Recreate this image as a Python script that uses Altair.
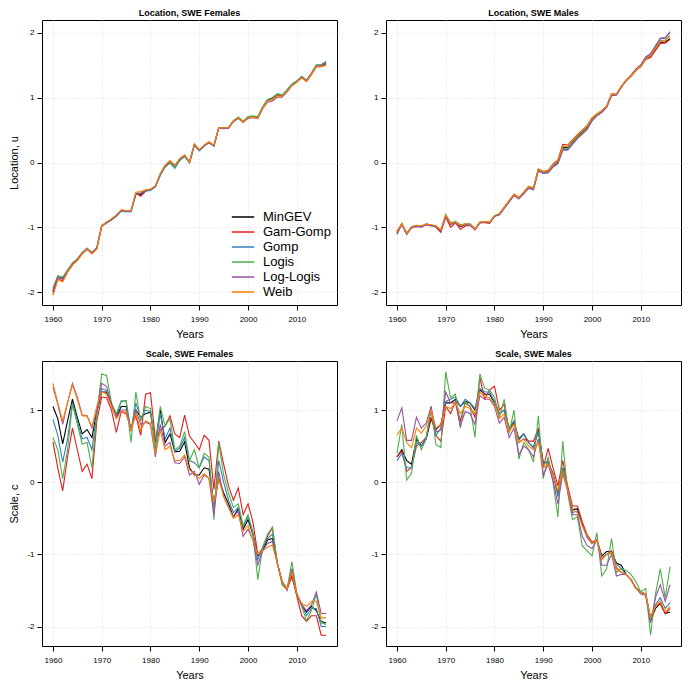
import altair as alt
import pandas as pd

years = list(range(1960, 2017))
models = ["MinGEV", "Gam-Gomp", "Gomp", "Logis", "Log-Logis", "Weib"]
colors = ["#000000", "#E41A1C", "#377EB8", "#4DAF4A", "#984EA3", "#FF7F00"]
x_ticks = [1960, 1970, 1980, 1990, 2000, 2010]
y_ticks = [-2, -1, 0, 1, 2]

# ---------------- Location, SWE Females ----------------
loc_f_mingev = [-2.00, -1.77, -1.80, -1.68, -1.57, -1.50, -1.40, -1.33, -1.40, -1.32,
                -0.98, -0.93, -0.88, -0.82, -0.74, -0.75, -0.75, -0.49, -0.50, -0.44,
                -0.42, -0.37, -0.19, -0.06, 0.01, -0.06, 0.04, 0.10, 0.00, 0.27,
                0.19, 0.26, 0.31, 0.26, 0.53, 0.53, 0.54, 0.64, 0.69, 0.63,
                0.70, 0.71, 0.70, 0.85, 0.96, 0.99, 1.05, 1.03, 1.11, 1.20,
                1.25, 1.32, 1.26, 1.37, 1.49, 1.49, 1.53]
loc_f_gamgomp = [-2.04, -1.80, -1.83, -1.69, -1.58, -1.51, -1.41, -1.34, -1.41, -1.33,
                 -0.99, -0.93, -0.88, -0.82, -0.74, -0.75, -0.75, -0.47, -0.52, -0.44,
                 -0.42, -0.37, -0.19, -0.05, 0.02, -0.05, 0.05, 0.11, 0.00, 0.28,
                 0.19, 0.26, 0.31, 0.26, 0.54, 0.53, 0.54, 0.64, 0.70, 0.63,
                 0.69, 0.70, 0.69, 0.84, 0.96, 0.98, 1.04, 1.03, 1.10, 1.19,
                 1.24, 1.31, 1.25, 1.36, 1.48, 1.48, 1.51]
loc_f_gomp = [-1.96, -1.75, -1.78, -1.67, -1.56, -1.49, -1.39, -1.33, -1.39, -1.32,
              -0.98, -0.93, -0.89, -0.83, -0.75, -0.76, -0.76, -0.49, -0.48, -0.44,
              -0.43, -0.38, -0.20, -0.07, -0.01, -0.09, 0.03, 0.09, 0.00, 0.27,
              0.18, 0.25, 0.31, 0.25, 0.53, 0.52, 0.53, 0.64, 0.69, 0.63,
              0.70, 0.71, 0.70, 0.86, 0.97, 1.00, 1.06, 1.04, 1.12, 1.21,
              1.26, 1.33, 1.27, 1.38, 1.50, 1.51, 1.56]
loc_f_logis = [-1.94, -1.75, -1.77, -1.66, -1.55, -1.49, -1.39, -1.32, -1.39, -1.31,
               -0.97, -0.92, -0.88, -0.82, -0.74, -0.75, -0.75, -0.48, -0.47, -0.43,
               -0.42, -0.37, -0.19, -0.06, 0.01, -0.07, 0.04, 0.10, 0.00, 0.27,
               0.19, 0.26, 0.31, 0.26, 0.53, 0.53, 0.54, 0.65, 0.70, 0.64,
               0.71, 0.72, 0.71, 0.86, 0.97, 1.00, 1.06, 1.04, 1.12, 1.21,
               1.26, 1.33, 1.27, 1.38, 1.51, 1.51, 1.56]
loc_f_loglogis = [-1.98, -1.77, -1.80, -1.68, -1.57, -1.50, -1.40, -1.33, -1.40, -1.32,
                  -0.98, -0.93, -0.88, -0.82, -0.74, -0.75, -0.75, -0.48, -0.47, -0.43,
                  -0.42, -0.37, -0.18, -0.05, 0.02, -0.05, 0.05, 0.11, 0.01, 0.28,
                  0.19, 0.26, 0.31, 0.26, 0.53, 0.52, 0.53, 0.63, 0.68, 0.62,
                  0.68, 0.69, 0.68, 0.83, 0.93, 0.95, 1.01, 1.01, 1.09, 1.19,
                  1.24, 1.32, 1.26, 1.37, 1.49, 1.49, 1.54]
loc_f_weib = [-2.05, -1.81, -1.84, -1.69, -1.58, -1.51, -1.41, -1.34, -1.41, -1.33,
              -0.99, -0.92, -0.87, -0.81, -0.73, -0.74, -0.74, -0.46, -0.45, -0.42,
              -0.41, -0.36, -0.17, -0.04, 0.03, -0.04, 0.06, 0.12, 0.01, 0.29,
              0.20, 0.27, 0.32, 0.27, 0.54, 0.53, 0.54, 0.64, 0.69, 0.63,
              0.69, 0.70, 0.69, 0.84, 0.95, 0.97, 1.03, 1.02, 1.10, 1.19,
              1.24, 1.31, 1.25, 1.36, 1.48, 1.48, 1.50]

# ---------------- Location, SWE Males ----------------
loc_m_mingev = [-1.08, -0.95, -1.10, -1.00, -0.98, -0.99, -0.95, -0.97, -0.99, -1.05,
                -0.83, -0.95, -0.93, -0.99, -0.96, -0.96, -1.03, -0.93, -0.92, -0.93,
                -0.83, -0.80, -0.70, -0.60, -0.50, -0.55, -0.47, -0.38, -0.40, -0.11,
                -0.15, -0.14, -0.04, 0.01, 0.23, 0.23, 0.32, 0.40, 0.47, 0.54,
                0.67, 0.74, 0.79, 0.86, 1.05, 1.05, 1.17, 1.27, 1.34, 1.43,
                1.49, 1.60, 1.64, 1.74, 1.85, 1.86, 1.91]
loc_m_gamgomp = [-1.06, -0.95, -1.09, -1.00, -0.98, -0.99, -0.96, -0.97, -1.00, -1.08,
                 -0.84, -1.00, -0.93, -1.03, -0.98, -0.97, -1.04, -0.93, -0.93, -0.94,
                 -0.83, -0.80, -0.69, -0.59, -0.49, -0.54, -0.46, -0.37, -0.39, -0.10,
                 -0.14, -0.12, -0.02, 0.04, 0.28, 0.27, 0.35, 0.43, 0.50, 0.57,
                 0.69, 0.75, 0.80, 0.87, 1.06, 1.05, 1.17, 1.26, 1.33, 1.42,
                 1.48, 1.59, 1.62, 1.73, 1.84, 1.84, 1.90]
loc_m_gomp = [-1.09, -0.95, -1.10, -1.00, -0.98, -0.99, -0.95, -0.97, -0.98, -1.05,
              -0.82, -0.94, -0.92, -0.97, -0.95, -0.95, -1.02, -0.93, -0.92, -0.93,
              -0.83, -0.80, -0.70, -0.61, -0.51, -0.56, -0.48, -0.39, -0.41, -0.12,
              -0.16, -0.15, -0.06, -0.01, 0.20, 0.20, 0.29, 0.38, 0.45, 0.52,
              0.65, 0.73, 0.78, 0.86, 1.04, 1.05, 1.17, 1.27, 1.35, 1.44,
              1.50, 1.62, 1.67, 1.79, 1.91, 1.92, 2.01]
loc_m_logis = [-1.10, -0.94, -1.11, -0.99, -0.97, -0.98, -0.95, -0.96, -0.98, -1.04,
               -0.80, -0.93, -0.91, -0.96, -0.95, -0.95, -1.03, -0.92, -0.91, -0.92,
               -0.82, -0.79, -0.70, -0.60, -0.50, -0.55, -0.47, -0.38, -0.40, -0.11,
               -0.15, -0.13, -0.04, 0.02, 0.22, 0.22, 0.31, 0.39, 0.46, 0.53,
               0.66, 0.74, 0.79, 0.86, 1.05, 1.05, 1.17, 1.27, 1.34, 1.43,
               1.49, 1.61, 1.65, 1.77, 1.88, 1.89, 1.96]
loc_m_loglogis = [-1.11, -0.96, -1.11, -1.01, -0.99, -1.00, -0.96, -0.98, -0.99, -1.05,
                  -0.84, -0.95, -0.94, -0.98, -0.97, -0.97, -1.03, -0.93, -0.92, -0.93,
                  -0.83, -0.81, -0.71, -0.61, -0.51, -0.56, -0.48, -0.40, -0.42, -0.13,
                  -0.17, -0.16, -0.07, -0.02, 0.19, 0.19, 0.28, 0.37, 0.44, 0.51,
                  0.64, 0.72, 0.77, 0.85, 1.03, 1.04, 1.16, 1.27, 1.35, 1.44,
                  1.51, 1.63, 1.68, 1.80, 1.92, 1.93, 2.02]
loc_m_weib = [-1.07, -0.94, -1.09, -0.99, -0.97, -0.98, -0.95, -0.96, -0.98, -1.04,
              -0.81, -0.94, -0.92, -0.97, -0.95, -0.95, -1.02, -0.92, -0.91, -0.92,
              -0.82, -0.79, -0.69, -0.59, -0.49, -0.54, -0.46, -0.37, -0.39, -0.10,
              -0.14, -0.13, -0.03, 0.03, 0.25, 0.25, 0.34, 0.42, 0.49, 0.56,
              0.68, 0.75, 0.80, 0.87, 1.06, 1.06, 1.18, 1.27, 1.34, 1.43,
              1.49, 1.60, 1.65, 1.76, 1.87, 1.88, 1.95]

# ---------------- Scale, SWE Females ----------------
sc_f_mingev = [1.05, 0.88, 0.53, 0.85, 1.15, 0.90, 0.67, 0.73, 0.62, 0.98,
               1.25, 1.25, 1.07, 0.90, 1.05, 1.05, 0.72, 1.00, 0.90, 0.95,
               0.97, 0.55, 1.00, 0.55, 0.67, 0.42, 0.43, 0.56, 0.20, 0.10,
               0.10, 0.20, 0.18, -0.30, 0.05, -0.15, -0.30, -0.48, -0.37, -0.65,
               -0.52, -0.72, -1.02, -0.95, -0.80, -0.78, -1.12, -1.38, -1.48, -1.30,
               -1.55, -1.70, -1.80, -1.72, -1.78, -1.93, -1.95]
sc_f_gamgomp = [0.56, 0.20, -0.12, 0.35, 0.75, 0.45, 0.15, 0.25, 0.05, 0.85,
                1.18, 1.17, 1.00, 0.69, 0.98, 0.95, 0.75, 0.92, 0.65, 1.22,
                1.24, 0.60, 0.72, 0.78, 0.92, 0.67, 0.62, 0.93, 0.64, 0.55,
                0.45, 0.65, 0.58, -0.10, 0.57, 0.25, -0.05, -0.25, -0.08, -0.45,
                -0.30, -0.55, -1.00, -0.92, -0.75, -0.63, -1.12, -1.38, -1.47, -1.30,
                -1.58, -1.85, -1.93, -1.85, -1.85, -2.12, -2.12]
sc_f_gomp = [0.87, 0.65, 0.28, 0.60, 1.10, 0.85, 0.60, 0.62, 0.45, 0.95,
             1.30, 1.27, 1.08, 0.92, 1.12, 1.13, 0.72, 1.10, 0.88, 1.00,
             0.98, 0.45, 0.95, 0.60, 0.75, 0.43, 0.47, 0.62, 0.30, 0.27,
             0.20, 0.35, 0.30, -0.35, 0.30, 0.00, -0.25, -0.42, -0.35, -0.62,
             -0.48, -0.70, -1.08, -0.90, -0.78, -0.72, -1.12, -1.40, -1.48, -1.20,
             -1.55, -1.70, -1.85, -1.75, -1.75, -2.00, -2.00]
sc_f_logis = [0.62, 0.45, 0.05, 0.45, 1.08, 0.80, 0.53, 0.55, 0.20, 0.95,
              1.50, 1.48, 1.10, 0.95, 1.13, 1.13, 0.55, 1.25, 0.85, 1.05,
              1.02, 0.50, 1.05, 0.78, 0.88, 0.45, 0.50, 0.70, 0.30, 0.45,
              0.20, 0.40, 0.35, -0.52, 0.55, 0.10, -0.15, -0.35, -0.30, -0.60,
              -0.45, -0.70, -1.35, -0.90, -0.72, -0.62, -1.12, -1.43, -1.48, -1.10,
              -1.55, -1.72, -1.92, -1.78, -1.55, -1.95, -1.97]
sc_f_loglogis = [1.32, 1.08, 0.80, 1.10, 1.37, 1.18, 0.93, 0.92, 0.75, 1.00,
                 1.37, 1.33, 1.08, 0.90, 1.00, 1.00, 0.72, 1.00, 0.80, 0.83,
                 0.80, 0.35, 0.80, 0.50, 0.55, 0.27, 0.26, 0.35, 0.10, 0.15,
                 -0.03, 0.10, 0.05, -0.45, 0.15, -0.20, -0.35, -0.48, -0.40, -0.75,
                 -0.65, -0.80, -1.15, -0.95, -0.85, -0.82, -1.12, -1.38, -1.50, -1.20,
                 -1.55, -1.70, -1.78, -1.70, -1.52, -1.82, -1.82]
sc_f_weib = [1.37, 1.10, 0.85, 1.10, 1.35, 1.15, 0.92, 0.92, 0.77, 1.05,
             1.25, 1.22, 1.05, 0.88, 0.98, 0.97, 0.72, 0.95, 0.72, 0.85,
             0.82, 0.40, 0.72, 0.45, 0.50, 0.30, 0.30, 0.38, 0.17, 0.12,
             0.05, 0.12, 0.05, -0.28, 0.05, -0.20, -0.35, -0.50, -0.45, -0.68,
             -0.60, -0.80, -1.00, -0.95, -0.90, -0.87, -1.12, -1.38, -1.48, -1.25,
             -1.55, -1.68, -1.72, -1.65, -1.65, -1.88, -1.88]

# ---------------- Scale, SWE Males ----------------
sc_m_mingev = [0.35, 0.45, 0.30, 0.25, 0.60, 0.50, 0.60, 0.88, 0.73, 0.80,
               1.10, 1.10, 1.15, 1.05, 1.12, 1.10, 1.00, 1.28, 1.22, 1.22,
               1.10, 0.95, 1.00, 0.75, 0.82, 0.60, 0.67, 0.55, 0.48, 0.72,
               0.27, 0.27, 0.12, -0.15, 0.20, -0.10, -0.38, -0.37, -0.58, -0.75,
               -0.85, -0.80, -1.02, -0.96, -0.96, -1.12, -1.15, -1.28, -1.35, -1.47,
               -1.52, -1.55, -1.92, -1.75, -1.68, -1.82, -1.80]
sc_m_gamgomp = [0.35, 0.43, 0.15, 0.20, 0.50, 0.55, 0.62, 0.90, 0.65, 0.57,
                1.05, 0.95, 1.12, 0.85, 1.10, 1.05, 0.90, 1.45, 1.15, 1.28,
                1.33, 1.00, 1.08, 0.70, 0.85, 0.55, 0.60, 0.57, 0.57, 0.75,
                0.20, 0.47, 0.20, -0.05, 0.30, -0.05, -0.33, -0.33, -0.55, -0.73,
                -0.83, -0.80, -1.05, -1.00, -0.95, -1.18, -1.25, -1.28, -1.35, -1.47,
                -1.53, -1.55, -1.88, -1.72, -1.68, -1.82, -1.75]
sc_m_gomp = [0.30, 0.40, 0.20, 0.20, 0.55, 0.50, 0.62, 1.00, 0.65, 0.75,
             1.12, 1.15, 1.18, 1.05, 1.15, 1.10, 1.02, 1.30, 1.25, 1.25,
             1.12, 0.95, 1.00, 0.75, 0.85, 0.58, 0.67, 0.55, 0.48, 0.70,
             0.25, 0.30, 0.10, -0.20, 0.20, -0.10, -0.42, -0.40, -0.60, -0.77,
             -0.85, -0.80, -1.05, -1.00, -0.98, -1.13, -1.20, -1.28, -1.35, -1.47,
             -1.52, -1.55, -1.88, -1.70, -1.60, -1.75, -1.67]
sc_m_logis = [0.40, 0.80, 0.03, 0.12, 0.65, 0.45, 0.60, 1.05, 0.52, 0.48,
              1.53, 1.17, 1.22, 0.75, 1.12, 1.05, 0.62, 1.50, 1.30, 1.28,
              1.18, 0.90, 1.15, 0.68, 1.00, 0.32, 0.55, 0.45, 0.28, 0.92,
              0.05, 0.35, 0.00, -0.48, 0.57, -0.15, -0.52, -0.48, -0.88, -0.95,
              -1.02, -0.70, -1.30, -1.20, -0.78, -1.25, -1.20, -1.22, -1.28, -1.38,
              -1.52, -1.47, -2.12, -1.55, -1.20, -1.60, -1.17]
sc_m_loglogis = [0.85, 1.03, 0.58, 0.58, 0.90, 0.75, 0.82, 1.05, 0.70, 0.72,
                 1.25, 1.10, 1.10, 0.78, 0.98, 0.95, 0.80, 1.20, 1.15, 1.15,
                 1.05, 0.82, 0.90, 0.62, 0.75, 0.38, 0.50, 0.45, 0.35, 0.60,
                 0.10, 0.25, 0.02, -0.30, 0.12, -0.12, -0.45, -0.45, -0.75, -0.88,
                 -0.92, -0.80, -1.15, -1.15, -1.00, -1.30, -1.28, -1.28, -1.35, -1.47,
                 -1.55, -1.57, -1.95, -1.60, -1.42, -1.65, -1.42]
sc_m_weib = [0.65, 0.75, 0.55, 0.48, 0.75, 0.68, 0.78, 1.00, 0.75, 0.80,
             1.05, 1.02, 1.10, 0.95, 1.05, 1.02, 0.95, 1.25, 1.18, 1.17,
             1.08, 0.88, 0.95, 0.70, 0.80, 0.55, 0.60, 0.50, 0.45, 0.55,
             0.20, 0.25, 0.10, -0.12, 0.15, -0.10, -0.38, -0.42, -0.60, -0.75,
             -0.85, -0.80, -1.08, -1.00, -0.98, -1.20, -1.25, -1.28, -1.35, -1.47,
             -1.53, -1.55, -1.88, -1.72, -1.65, -1.80, -1.72]

FONT = "Liberation Sans"


def frame(series):
    rows = []
    for m, vals in zip(models, series):
        assert len(vals) == len(years), (m, len(vals))
        for yr, v in zip(years, vals):
            rows.append({"year": yr, "value": v, "model": m})
    return pd.DataFrame(rows)


def panel(df, title, ydomain, ytitle=None, legend=False, w=295, h=285):
    if legend:
        leg = alt.Legend(title=None, orient="bottom-right", offset=6,
                         symbolType="M-1.6,0H1.6", symbolSize=196,
                         symbolStrokeWidth=1.5, labelFont=FONT, labelFontSize=13,
                         labelFontWeight="normal",
                         labelColor="black", rowPadding=0, labelOffset=12,
                         padding=0)
        color = alt.Color("model:N", scale=alt.Scale(domain=models, range=colors),
                          legend=leg)
    else:
        color = alt.Color("model:N", scale=alt.Scale(domain=models, range=colors),
                          legend=None)
    return alt.Chart(
        df,
        title=alt.TitleParams(title, font=FONT, fontSize=9, fontWeight="bold",
                              offset=2, color="black", anchor="middle"),
    ).mark_line(strokeWidth=1.1).encode(
        x=alt.X("year:Q",
                scale=alt.Scale(domain=[1957.76, 2018.24], nice=False, zero=False),
                axis=alt.Axis(values=x_ticks, format="d", title="Years")),
        y=alt.Y("value:Q",
                scale=alt.Scale(domain=ydomain, nice=False, zero=False),
                axis=alt.Axis(values=y_ticks, title=ytitle,
                              labelExpr="datum.value + ''")),
        color=color,
    ).properties(width=w, height=h)


p1 = panel(frame([loc_f_mingev, loc_f_gamgomp, loc_f_gomp, loc_f_logis, loc_f_loglogis, loc_f_weib]),
           "Location, SWE Females", [-2.2, 2.2], ytitle="Location, u", legend=True)
p2 = panel(frame([loc_m_mingev, loc_m_gamgomp, loc_m_gomp, loc_m_logis, loc_m_loglogis, loc_m_weib]),
           "Location, SWE Males", [-2.2, 2.2])
p3 = panel(frame([sc_f_mingev, sc_f_gamgomp, sc_f_gomp, sc_f_logis, sc_f_loglogis, sc_f_weib]),
           "Scale, SWE Females", [-2.27, 1.68], ytitle="Scale, c")
p4 = panel(frame([sc_m_mingev, sc_m_gamgomp, sc_m_gomp, sc_m_logis, sc_m_loglogis, sc_m_weib]),
           "Scale, SWE Males", [-2.27, 1.68])

top = alt.hconcat(p1, p2, spacing=32).resolve_legend(color="independent").resolve_scale(color="independent")
bottom = alt.hconcat(p3, p4, spacing=32).resolve_legend(color="independent").resolve_scale(color="independent")

chart = alt.vconcat(top, bottom, spacing=9).resolve_legend(
    color="independent").resolve_scale(color="independent").properties(
    padding=0
).configure_view(
    stroke="black", strokeWidth=1
).configure_axis(
    domain=False, tickColor="black", tickSize=5, tickWidth=1,
    labelFont=FONT, labelFontSize=8, labelColor="black",
    titleFont=FONT, titleFontSize=11, titleFontWeight="normal", titleColor="black",
    grid=True, gridColor="#d6d6d6", gridDash=[1, 2], gridWidth=0.8
).configure_axisX(
    labelPadding=5, titlePadding=5
).configure_axisY(
    labelPadding=3, titlePadding=7
)

chart.save("out.html", embed_options={"renderer": "svg", "actions": False})
